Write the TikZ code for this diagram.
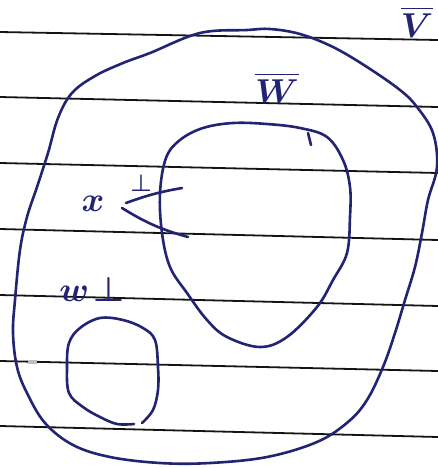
\documentclass[tikz,border=0pt]{standalone}
\usepackage{amsmath}
\usepackage{bm}
\definecolor{ink}{RGB}{35,35,115}
\definecolor{rule}{RGB}{20,20,20}
\tikzset{
  ruled/.style={draw=rule, line width=0.9pt},
  blob/.style={draw=ink, line width=1.3pt, line cap=round, line join=round},
  lbl/.style={text=ink, inner sep=0pt, font=\fontsize{18}{20}\selectfont\boldmath},
}
\begin{document}
\begin{tikzpicture}[x=0.5pt, y=-0.5pt]
\useasboundingbox[fill=white] (0,0) rectangle (438,468);
% ruled paper lines
\foreach \a/\b in {32/40, 97/107, 163/173, 229/240, 295/306, 361/371, 426/437}
  \draw[ruled] (0,\a) -- (438,\b);
\fill[gray!50] (28,360) rectangle (37,364);
% outer blob V
\draw[blob] plot[smooth cycle, tension=0.6] coordinates {
 (247,30) (200,33) (150,53) (123,63) (95,76) (72,93) (58,118) (48,153) (37,187)
 (27,217) (20,250) (15,300) (13,333) (17,367) (27,393) (45,423) (73,445) (110,457)
 (160,463) (210,463) (267,457) (317,442) (348,422) (367,400) (383,367) (395,333)
 (405,300) (415,267) (422,233) (428,200) (437,167) (433,133) (417,107) (400,90)
 (367,67) (333,47) (300,34) (270,29)};
% inner blob W
\draw[blob] plot[smooth cycle, tension=0.6] coordinates {
 (233,123) (203,128) (180,140) (166,158) (160,193) (162,233) (170,267) (187,293)
 (207,320) (227,337) (260,347) (287,337) (317,307) (333,280) (347,253) (350,217)
 (350,187) (343,160) (327,137) (300,128) (267,124)};
\draw[blob] (308,133) -- (311,145);
% small blob W-perp (open)
\draw[blob] plot[smooth, tension=0.6] coordinates {
 (142,423) (153,410) (158,390) (158,367) (155,340) (143,328) (123,320) (100,318)
 (80,328) (69,343) (67,367) (69,393) (83,407) (100,417) (117,424) (134,424)};
% labels
\node[lbl] (V) at (417,22) {$\overline{V}$};
\node[lbl] (W) at (277,88) {$\overline{W}$};
\node[lbl] (x) at (93,204) {$x$};
\node[lbl, font=\fontsize{12}{14}\selectfont\boldmath] (perp) at (141,183) {$\perp$};
\node[lbl] (Wp) at (92,289) {$w\!\perp$};
% angle mark
\coordinate (a0) at (126,203);
\coordinate (a1) at (182,188);
\coordinate (b0) at (122,208);
\coordinate (b1) at (188,237);
\draw[blob] (a0) to[bend left=5] (a1);
\draw[blob] (b0) to[bend right=8] (b1);
\end{tikzpicture}
\end{document}
